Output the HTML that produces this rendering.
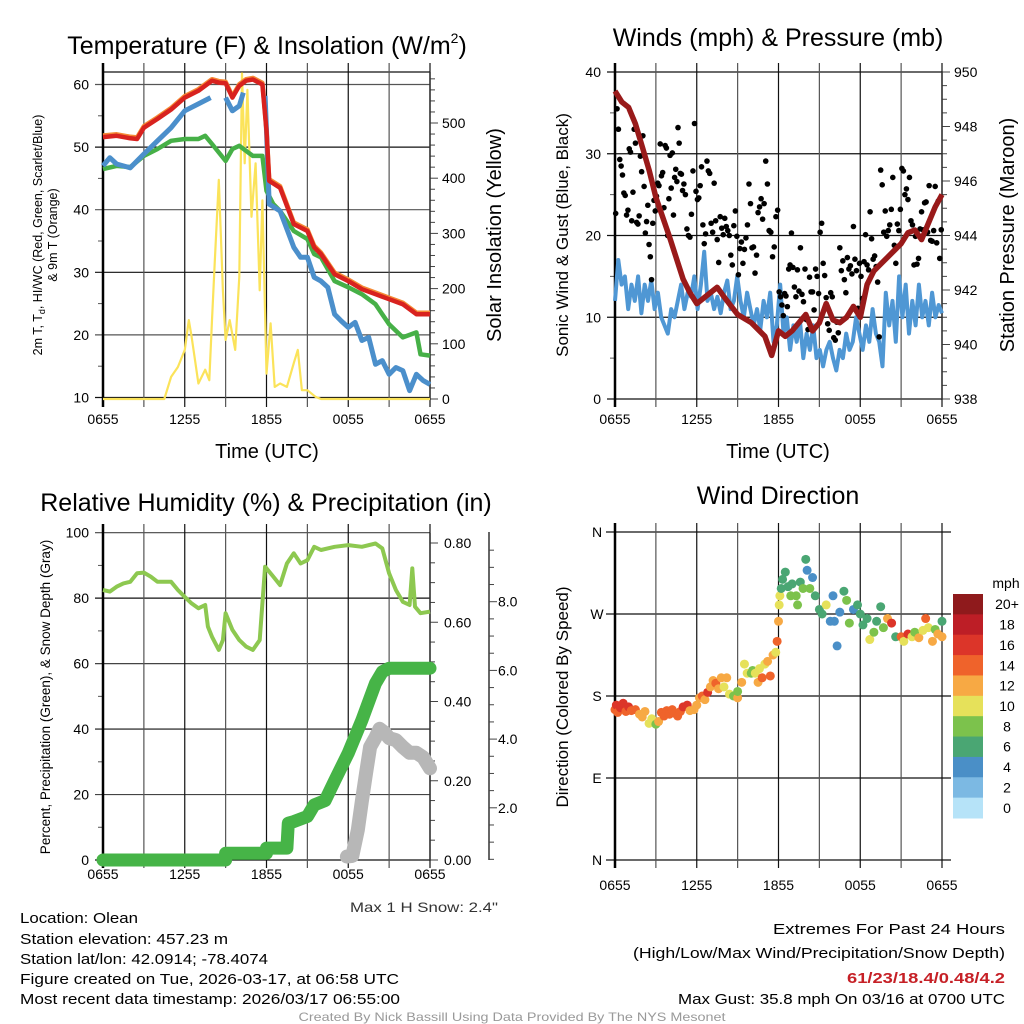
<!DOCTYPE html>
<html><head><meta charset="utf-8">
<style>
html,body{margin:0;padding:0;background:#fff;}
svg{display:block;font-family:"Liberation Sans",sans-serif;}
</style></head>
<body>
<svg id="fig" width="1024" height="1024" viewBox="0 0 1024 1024" xmlns="http://www.w3.org/2000/svg">
<rect width="1024" height="1024" fill="#fff"/>
<g id="layer"></g>
<text x="267" y="54" font-size="25" text-anchor="middle">Temperature (F) &amp; Insolation (W/m<tspan font-size="14" dy="-11">2</tspan><tspan dy="11">)</tspan></text>
<text x="778" y="46" font-size="25" text-anchor="middle">Winds (mph) &amp; Pressure (mb)</text>
<text x="266" y="511" font-size="25" text-anchor="middle">Relative Humidity (%) &amp; Precipitation (in)</text>
<text x="778" y="504" font-size="25" text-anchor="middle">Wind Direction</text>

<text x="267" y="458" font-size="20" text-anchor="middle">Time (UTC)</text>
<text x="778" y="458" font-size="20" text-anchor="middle">Time (UTC)</text>

<text transform="translate(42,235) rotate(-90)" font-size="12.5" text-anchor="middle">2m T, T<tspan font-size="9" dy="3">d</tspan><tspan dy="-3">, HI/WC (Red, Green, Scarlet/Blue)</tspan></text>
<text transform="translate(57,235) rotate(-90)" font-size="12.5" text-anchor="middle">&amp; 9m T (Orange)</text>
<text transform="translate(501,235) rotate(-90)" font-size="20" text-anchor="middle">Solar Insolation (Yellow)</text>
<text transform="translate(568,235) rotate(-90)" font-size="17" text-anchor="middle">Sonic Wind &amp; Gust (Blue, Black)</text>
<text transform="translate(1014,235) rotate(-90)" font-size="20" text-anchor="middle">Station Pressure (Maroon)</text>
<text transform="translate(50,697) rotate(-90)" font-size="13.5" text-anchor="middle">Percent, Precipitation (Green), &amp; Snow Depth (Gray)</text>
<text transform="translate(568,697) rotate(-90)" font-size="17" text-anchor="middle">Direction (Colored By Speed)</text>

<text x="350" y="912" font-size="14" fill="#333" textLength="148" lengthAdjust="spacingAndGlyphs">Max 1 H Snow: 2.4"</text>
<g font-size="15">
<text x="20" y="923" textLength="118" lengthAdjust="spacingAndGlyphs">Location: Olean</text>
<text x="20" y="944" textLength="208" lengthAdjust="spacingAndGlyphs">Station elevation: 457.23 m</text>
<text x="20" y="964" textLength="248" lengthAdjust="spacingAndGlyphs">Station lat/lon: 42.0914; -78.4074</text>
<text x="20" y="984" textLength="379" lengthAdjust="spacingAndGlyphs">Figure created on Tue, 2026-03-17, at 06:58 UTC</text>
<text x="20" y="1004" textLength="380" lengthAdjust="spacingAndGlyphs">Most recent data timestamp: 2026/03/17 06:55:00</text>
</g>
<g font-size="15" text-anchor="end">
<text x="1005" y="934" textLength="232" lengthAdjust="spacingAndGlyphs">Extremes For Past 24 Hours</text>
<text x="1005" y="958" textLength="372" lengthAdjust="spacingAndGlyphs">(High/Low/Max Wind/Precipitation/Snow Depth)</text>
<text x="1005" y="983" fill="#c62026" font-weight="bold" textLength="158" lengthAdjust="spacingAndGlyphs">61/23/18.4/0.48/4.2</text>
<text x="1005" y="1004" textLength="327" lengthAdjust="spacingAndGlyphs">Max Gust: 35.8 mph On 03/16 at 0700 UTC</text>
</g>
<text x="512" y="1021" font-size="12" fill="#999" text-anchor="middle" textLength="427" lengthAdjust="spacingAndGlyphs">Created By Nick Bassill Using Data Provided By The NYS Mesonet</text>
</svg>
<script>
// ---------- DATA (hours since 0655 UTC) ----------
const timeLabels = ["0655","1255","1855","0055","0655"];
const tempHours = [0,1,2,2.5,3,4,5,6,7,8,8.5,9,9.5,10,10.5,11,11.7,12,12.2,13,14,15,15.5,16,17,18,19,20,21,22,23,24];
const tempVals  = [51.6,51.8,51.4,51.3,53.1,54.5,56,57.9,59,60.6,60.3,60.2,57.9,59.8,60.6,60.8,60,52.6,44.6,43.5,37.7,36.6,34,32.9,29.7,28.6,27.3,26.5,25.7,24.9,23.3,23.3];
const dewHours = [0,1,2,3,4,5,6,7,7.5,8,9,9.5,10,11,11.7,12,12.5,13,14,15,15.5,16,17,18,19,20,21,22,23,23.3,24];
const dewVals  = [46.5,47,46.8,48.6,49.7,51,51.3,51.3,51.8,50.5,47.8,49.7,50.2,48.6,48.6,43,40.9,39.8,36.6,35.3,32.9,32.4,28.6,27.6,26.5,24.9,21.7,19.6,20.4,16.9,16.7];
const chillHours = [0,0.5,1,2,3,4,5,6,7,7.9,null,9,9.5,10,10.3,null,11.9,12,12.2,13,14,14.5,15,15.5,16,16.5,17,17.5,18,18.5,19,19.5,20,20.5,21,21.5,22,22.5,23,23.5,24];
const chillVals  = [47,48.3,47.3,46.7,48.9,51,53.1,55.8,56.9,57.9,null,57.9,55.8,56.6,58.7,null,58.2,52.6,40.9,39.8,34,32.4,32.4,29.2,28.6,27.6,23.3,22.2,21.2,22,19.1,19.6,15.3,15.9,13.7,14.8,14.3,11.1,13.7,12.7,12.1];
const solarHours = [0,4.5,5,5.5,6,6.3,6.5,7,7.5,7.8,8,8.2,8.5,8.8,9,9.3,9.7,10,10.2,10.4,10.6,10.9,11.2,11.5,11.7,12,12.3,12.6,13,13.5,14,14.3,14.6,15,15.6,16,24];
const solarVals  = [0,0,40,58,89,143,113,28,53,34,143,246,397,197,107,143,89,222,590,427,560,330,427,197,360,46,137,22,28,22,65,89,16,16,4,0,0];

const pressHours = [0,0.5,1,1.5,2,2.5,3,4,5,5.5,6,7,7.5,8,9,10,11,11.5,12,12.5,13,14,14.5,15,15.5,16,16.5,17,17.5,18,18.5,19,19.5,20,20.5,21,21.5,22,22.5,23,23.5,24];
const pressVals  = [949.3,948.9,948.7,948.1,947.25,946.4,945.4,943.95,942.4,941.9,941.5,941.9,942.1,941.75,941.1,940.8,940.3,939.6,940.5,940.3,940.5,941.1,940.5,940.8,941.5,940.9,940.8,941.0,941.4,941.0,942.2,942.7,942.95,943.2,943.45,943.7,944.1,944.2,943.85,944.45,945.05,945.5];
const sonicVals = [12,17,14,15,11,14,12,15,10.5,14,12,14.5,11,13,10,9,8,11,10,12,14,11,13,12.5,15,11,14,18,12,13,11,12.5,10.5,13,14.5,11,12,15,12,10,13,11,9,11,8.5,12,10,13,7,9,14,8,10,6,9,7,9.5,5,8,6,9,5,6,4,6,7,5,3.5,6,5,8,6,7,10,8,6,9,7,11,8,7,4,13,9,12,7,15,10,14,8,12,9,14,10,12,9,13,10,11.5,10.5];
const gustByHour = [
 [22.7,35.5,33,29.3,28.5,27.4,25.2,24.9,22.5,23.1],
 [30.6,30.2,21.8,25.3,33,31.3,21.6,21.4,22.4,29.7,27.8],
 [32.2,26,20.3,21.7,23.7,18.9,17.4,14.6,21.5,24.3,23],
 [24.8,26.4,26.1,31.2,27.3,27.7,23.4,31,30.7,20,24.5],
 [29.8,25.8,30.1,22.5,27.1,28.1,26.6,33.2,31.3,27.6,27.5,25.5],
 [26.3,25,20.8,20,19.8,22.6,27.9,33.7,25.4],
 [24.4,24.6,26.1,28.4,21.3,19,20.2,29.1,27.9,27.6],
 [21.5,20.4,26.4,21.8,19.5,16.7,22.3,20.9,20.1],
 [22.1,21.1,20.6,20,17.6,16.4,21.2,23,19.9],
 [15.2,18.4,19.2,16.6,18.3,19.7,21.3,26.3,23.9],
 [18.5,18.6,15.4,17.6,22.8,23.5,24.5,22,23.9],
 [29.1,26.3,20.6,20.4,17.4,18.6,22.3,23.1],
 [13.1,12.5,11.5,10.2,12.9,12.6,11.3,15.9,16.4,20.3],
 [16.1,13.7,12.5,15.8,13.2,18.5,12.8,11.9,15.9],
 [9.7,8.5,14.9,13.1,13.1,10.9,15.9,15,12.9],
 [20.4,21.5,16.6,15.1,12.4,9.2,8.4,13,12.5],
 [7.5,7.2,9.4,8.1,18.5,15.7,16.9,14.6,13],
 [17.3,15.9,16.3,15.3,21.1,17.1,15.7,11.1,16.6],
 [15,12.3,16.8,20.1,16.4,15.8,22.9,19.6,17.1],
 [17.5,16.2,14.3,7.6,28,26.2,20.4,23,19.9],
 [20.6,21.3,23.2,27.1,18.8,16.6,21.4,20.6,23.2],
 [28.2,27.9,25,25.7,24.4,27.1,21.8,21.3,16.4],
 [19.9,16.5,17.2,20.8,22.9,20.7,24,24.1,20.4],
 [26.1,19.4,19.3,20.6,26,19.1,24.2,17.2,20.7]
];

const rhHours = [0,0.5,1,1.5,2,2.5,3,3.5,4,5,5.5,6,6.5,7,7.5,7.7,8,8.5,8.8,9,9.5,10,10.5,11,11.5,11.9,12.5,13,13.5,14,14.5,15,15.5,16,17,18,19,20,20.5,21,21.5,22,22.5,22.7,22.9,23.3,24];
const rhVals  = [82.5,82,83.5,84.5,85,87.6,87.8,86.6,85,85,82.5,80.4,78.4,76.9,77.9,71.3,68.2,64.2,67.2,75.4,70.3,67.2,65.2,64.2,67.2,89.6,86.6,84,90.6,93.7,90.6,91.6,95.7,94.7,95.7,96.2,95.7,96.7,95.2,87.6,82.5,78.9,77.9,89.1,77.4,75.4,75.9];
const precipHours = [0,9,9,12,12,13.5,13.6,14,15,15.5,16.3,17,18,19,20,20.5,21,24];
const precipVals  = [0,0,0.017,0.017,0.03,0.03,0.093,0.097,0.11,0.139,0.15,0.2,0.27,0.353,0.446,0.475,0.484,0.484];
const snowHours = [17.9,18.3,18.7,19,19.3,19.6,20,20.3,20.7,21,21.5,22,22.5,23,23.5,24];
const snowVals  = [0.58,0.6,1.35,2.2,3.0,3.77,4.05,4.3,4.18,4.03,3.97,3.77,3.6,3.6,3.47,3.15];

const dirHours = [0,0.1,0.2,0.4,0.6,0.8,1,1.2,1.5,1.8,2,2.2,2.5,2.7,3,3.2,3.4,3.6,3.8,4,4.2,4.4,4.6,4.8,5,5.3,5.5,5.8,6,6.2,6.4,6.6,6.8,7,7.2,7.4,7.6,7.8,8,8.2,8.4,8.7,9,9,9.3,9.5,9.7,10,10.1,10.3,10.5,10.6,10.8,11,11.2,11.4,11.6,11.8,11.9,12,12.05,12.1,12.2,12.3,12.5,12.7,12.9,13,13.3,13.4,13.6,13.8,14,14.1,14.3,14.5,14.7,15,15.2,15.5,15.8,16,16.1,16.3,16.5,16.8,17,17.2,17.5,17.8,18,18.2,18.5,18.7,19,19.2,19.5,19.7,20,20.3,20.6,21,21.2,21.5,21.8,22,22.3,22.6,22.8,23,23.3,23.5,23.7,24,24];
const dirVals  = [165,170,162,167,172,163,168,164,165,160,157,163,150,155,149,152,162,158,164,160,165,161,158,163,168,170,164,165,170,178,180,176,184,190,197,194,188,200,190,200,182,180,178,185,195,215,205,205,208,205,195,210,200,215,218,202,225,228,240,262,280,290,298,308,316,300,290,303,290,280,305,298,330,318,298,310,290,275,270,280,262,290,262,235,272,295,285,260,275,280,270,258,265,242,250,262,278,255,265,260,245,245,240,248,245,250,244,252,265,255,240,253,248,262,245];
const dirSpeeds = [15,17,14,16,16,14,16,15,14,12,13,12,10,11,9,12,15,14,15,14,15,14,14,15,16,17,13,12,12,12,14,13,16,12,13,15,12,12,11,12,10,8,12,9,12,10,11,8,9,10,12,10,14,11,12,15,12,10,14,12,10,10,7,6,6,7,8,6,8,8,6,8,6,4,8,4,6,6,7,10,4,4,4,4,5,6,8,8,4,6,6,7,6,10,8,6,6,8,12,16,6,14,10,16,11,8,12,10,14,10,12,8,12,6,12];
const speedBins = ["0","2","4","6","8","10","12","14","16","18","20+"];
const binColors = ["#b6e3f8","#7cb9e3","#4a8fc7","#4aa673","#7cc24c","#e6e15a","#f7a944","#ef632b","#dc3529","#bd1e26","#8f1a1c"];

// ---------- HELPERS ----------
const NS = "http://www.w3.org/2000/svg";
const layer = document.getElementById('layer');
function mk(tag, attrs, parent){ const e=document.createElementNS(NS,tag); for(const k in attrs) e.setAttribute(k,attrs[k]); (parent||layer).appendChild(e); return e; }
function xScale(x0){ return h => x0 + h*(327/24); }
function lin(v0,v1,p0,p1){ return v => p0 + (v-v0)*(p1-p0)/(v1-v0); }
function pathFrom(hs, vs, xs, ys){
  let d="", pen=false;
  for(let i=0;i<hs.length;i++){
    if(hs[i]===null||vs[i]===null){pen=false;continue;}
    d += (pen?"L":"M") + xs(hs[i]).toFixed(1)+","+ys(vs[i]).toFixed(1);
    pen=true;
  }
  return d;
}
function hline(x1,x2,y,g,c,w){ mk('line',{x1:x1,x2:x2,y1:y,y2:y,stroke:c||'#000','stroke-width':w||1},g); }
function vline(x,y1,y2,g,c,w){ mk('line',{x1:x,x2:x,y1:y1,y2:y2,stroke:c||'#000','stroke-width':w||1},g); }
function txt(x,y,s,g,attrs){ const t=mk('text',Object.assign({x:x,y:y,'font-size':14},attrs||{}),g); t.textContent=s; return t; }

function timeAxis(g, x0, top, bottom, labelY){
  const xs = xScale(x0);
  for(let h=0; h<=24; h+=3){
    const x = xs(h);
    vline(x, top-9, bottom+8, g, (h%6===3)?'#555':'#111', 1.2);
  }
  timeLabels.forEach((l,i)=>{ txt(xs(i*6), labelY, l, g, {'text-anchor':'middle','font-size':14}); });
}

// ================= PANEL 1: Temperature =================
(function(){
  const g = mk('g',{});
  
  
  const x0=103, x1=430, top=72, bot=399;
  const xs = xScale(x0);
  const ys = lin(10,60,397.5,84.5);
  const ysR = lin(0,500,399,123);
  for(let v=10; v<=60; v+=10){ hline(x0-8, x1, ys(v), g, (v%20===0)?'#555':'#111',1.2); txt(x0-14, ys(v)+5, String(v), g, {'text-anchor':'end'}); }
  for(let v=15; v<=55; v+=10){ hline(x0-5, x0, ys(v), g, '#555',1); }
  for(let v=0; v<=580; v+=20){ const major=v%100===0; hline(x1, x1+(major?8:5), ysR(v), g, '#444',1); if(major) txt(x1+12, ysR(v)+5, String(v), g); }
  hline(x0, x1, top, g, '#111',1.2);
  timeAxis(g, x0, top, bot, 424);
  vline(x0, top-9, bot+8, g, '#000', 2.5);
  vline(x1, top, bot, g, '#333', 1.5);
  const sol = mk('path',{d:pathFrom(solarHours,solarVals,xs,ysR),fill:'none',stroke:'#fbe35a','stroke-width':2.2,'stroke-linejoin':'round'},g);
   
  const orangeVals = tempVals.map(v=>v+0.25);
  const or = mk('path',{d:pathFrom(tempHours,orangeVals,xs,ys),fill:'none',stroke:'#f58a35','stroke-width':4.5,'stroke-linejoin':'round'},g);
   
  const dw = mk('path',{d:pathFrom(dewHours,dewVals,xs,ys),fill:'none',stroke:'#46b047','stroke-width':4.5,'stroke-linejoin':'round'},g);
   
  const ch = mk('path',{d:pathFrom(chillHours,chillVals,xs,ys),fill:'none',stroke:'#4b8fcb','stroke-width':5,'stroke-linejoin':'round'},g);
   
  const rd = mk('path',{d:pathFrom(tempHours,tempVals,xs,ys),fill:'none',stroke:'#d8221f','stroke-width':4.5,'stroke-linejoin':'round'},g);
   
})();

// ================= PANEL 2: Winds =================
(function(){
  const g = mk('g',{});
  
  
  const x0=615, x1=942, top=72, bot=399;
  const xs = xScale(x0);
  const ys = lin(0,40,399,72);
  const ysR = lin(938,950,399,72);
  for(let v=0; v<=40; v+=10){ hline(x0-8, x1, ys(v), g, '#111',1.2); txt(x0-14, ys(v)+5, String(v), g, {'text-anchor':'end'}); }
  for(let v=5; v<=35; v+=10){ hline(x0-5, x0, ys(v), g, '#555',1); }
  for(let v=938; v<=950.01; v+=0.5){ const major=Math.abs(v%2)<0.01; hline(x1, x1+(major?8:5), ysR(v), g, '#444',1); if(major) txt(x1+12, ysR(v)+5, String(v), g); }
  timeAxis(g, x0, top, bot, 424);
  vline(x0, top-9, bot+8, g, '#000', 2.5);
  vline(x1, top, bot, g, '#333', 1.5);
  const sonicHours = sonicVals.map((v,i)=> i*24/(sonicVals.length-1));
  const bl = mk('path',{d:pathFrom(sonicHours,sonicVals,xs,ys),fill:'none',stroke:'#4f97d4','stroke-width':4,'stroke-linejoin':'round'},g);
   
  const gg = mk('g',{},g);
   
  gustByHour.forEach((arr,h)=>{ arr.forEach((v,j)=>{
    const c = mk('circle',{cx:xs(h+(j+0.5)/arr.length), cy:ys(v), r:2.8, fill:'#000'},gg);
    
    
  });});
  const pr = mk('path',{d:pathFrom(pressHours,pressVals,xs,ysR),fill:'none',stroke:'#991a1a','stroke-width':5.5,'stroke-linejoin':'round'},g);
   
})();

// ================= PANEL 3: RH & Precip =================
(function(){
  const g = mk('g',{});
  
  
  const x0=103, x1=430, top=533, bot=860;
  const xs = xScale(x0);
  const ys = lin(0,100,860,532.7);
  const ysP = lin(0,0.8,860,543);
  const ysS = lin(0,8,876.5,601.7);
  for(let v=0; v<=100; v+=20){ hline(x0-8, x1, ys(v), g, (v%40===0)?'#111':'#444',1.2); txt(x0-14, ys(v)+5, String(v), g, {'text-anchor':'end'}); }
  for(let v=10; v<=90; v+=20){ hline(x0-5, x0, ys(v), g, '#555',1); }
  for(let v=0; v<=0.8001; v+=0.05){ const major=Math.abs((v*100)%20)<0.01||Math.abs((v*100)%20-20)<0.01; hline(x1, x1+(major?8:5), ysP(v), g, '#444',1); if(major) txt(x1+14, ysP(v)+5, v.toFixed(2), g); }
  vline(489, 532, 860, g, '#333', 1.5);
  for(let v=0.5; v<=9.5; v+=0.5){ const y=ysS(v); if(y<532||y>860) continue; const major=(v%2===0); hline(489, 489+(major?8:5), y, g, '#444',1); if(major) txt(498, y+5, v.toFixed(1), g); }
  timeAxis(g, x0, top, bot, 879);
  vline(x0, top-9, bot+8, g, '#000', 2.5);
  vline(x1, top, bot, g, '#333', 1.5);
  const sn = mk('path',{d:pathFrom(snowHours,snowVals,xs,ysS),fill:'none',stroke:'#b7b7b7','stroke-width':14,'stroke-linejoin':'round','stroke-linecap':'round'},g);
   
  const pp = mk('path',{d:pathFrom(precipHours,precipVals,xs,ysP),fill:'none',stroke:'#46b447','stroke-width':13,'stroke-linejoin':'round','stroke-linecap':'round'},g);
   
  const rh = mk('path',{d:pathFrom(rhHours,rhVals,xs,ys),fill:'none',stroke:'#8dc850','stroke-width':4,'stroke-linejoin':'round'},g);
   
})();

// ================= PANEL 4: Wind Direction =================
(function(){
  const g = mk('g',{});
  
  
  const x0=615, x1=942, top=532, bot=860;
  const xs = xScale(x0);
  const ys = lin(0,360,860,532);
  const dirLabels = ["N","E","S","W","N"];
  dirLabels.forEach((l,i)=>{ const y=ys(i*90); hline(x0-9, x1+9, y, g, '#111',1.2); txt(x0-18, y+5, l, g, {'text-anchor':'middle'}); });
  timeAxis(g, x0, top, bot, 890);
  vline(x0, top-9, bot+8, g, '#000', 2.5);
  const dg = mk('g',{},g);
   
  dirHours.forEach((h,i)=>{
    const bin = Math.min(10, Math.max(0, Math.floor(dirSpeeds[i]/2)));
    const c = mk('circle',{cx:xs(h), cy:ys(dirVals[i]), r:4.5, fill:binColors[bin]},dg);
    
    
  });
  const lg = mk('g',{},g);
   
  txt(1006, 588, 'mph', lg, {'text-anchor':'middle','font-size':14});
  const boxH = (818-594)/speedBins.length;
  speedBins.forEach((l,i)=>{
    const k = speedBins.length-1-i;
    const y = 594 + i*boxH;
    const r = mk('rect',{x:953, y:y, width:30, height:boxH+0.5, fill:binColors[k]},lg);
    
    
    txt(1007, y+boxH/2+5, speedBins[k], lg, {'text-anchor':'middle','font-size':14});
  });
})();
</script>
</body></html>
